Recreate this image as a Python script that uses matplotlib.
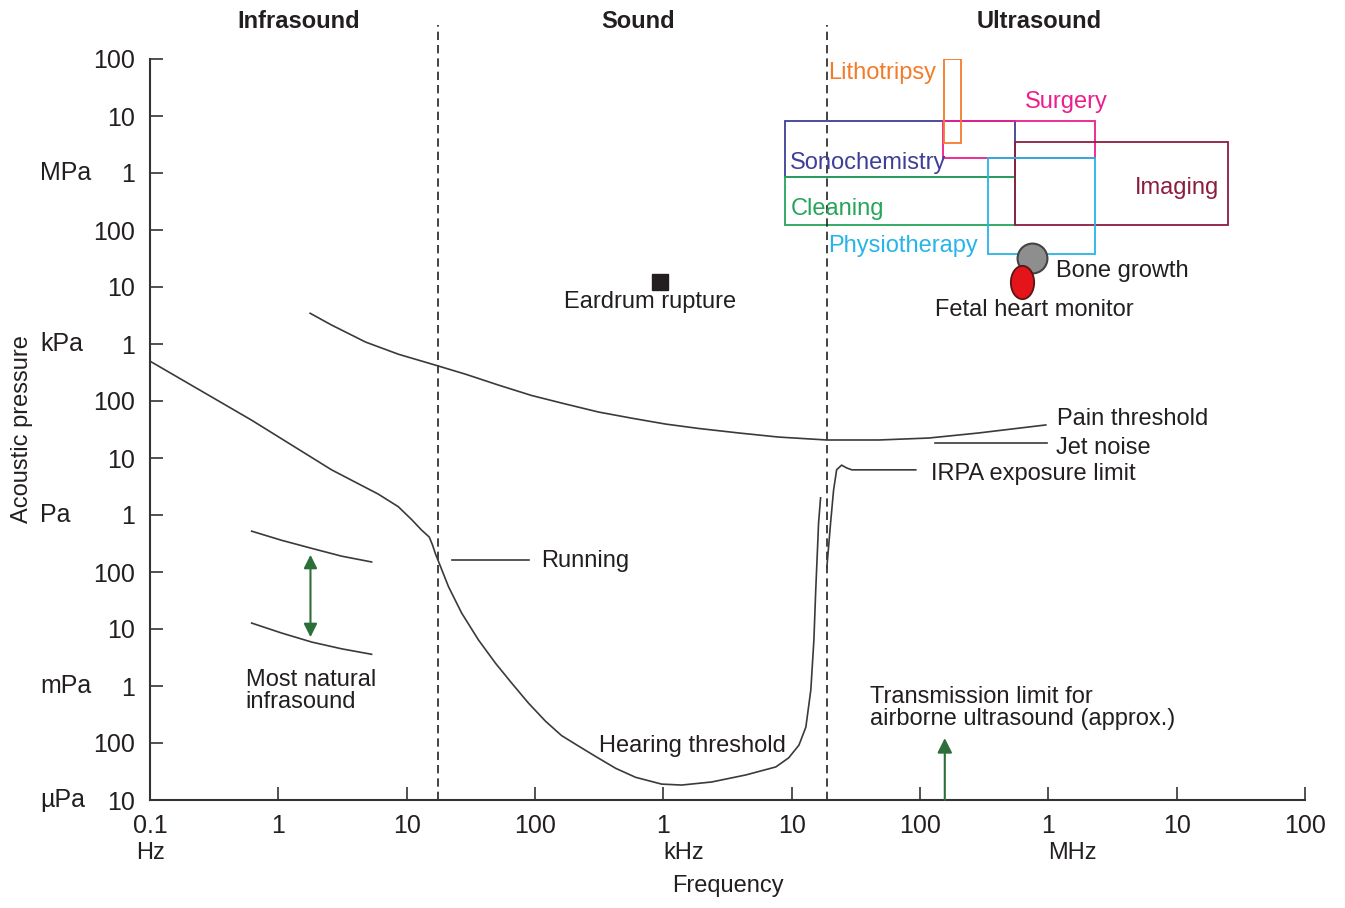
import matplotlib.pyplot as plt
from matplotlib.patches import Rectangle
from matplotlib.path import Path
from matplotlib.transforms import Affine2D

plt.rcParams['font.family'] = ['Liberation Sans', 'DejaVu Sans']

# --- data (frequency in Hz, pressure in Pa) ---
hear_f = [0.1, 0.62, 2.6, 6.0, 8.6, 11, 13, 15, 15.9, 16.7, 21.2, 26.8, 36.3, 49.3, 65.7, 89,
          121, 161, 219, 297, 425, 608, 970, 1390, 2380, 4390, 7520, 9490, 11400,
          12900, 14100, 14900, 15400, 16000, 16200, 16800]
hear_p = [500, 46, 6.2, 2.33, 1.4, 0.82, 0.55, 0.41, 0.298, 0.213, 0.055, 0.0191, 6.4e-3,
          2.5e-3, 1.13e-3, 5.0e-4, 2.4e-4, 1.35e-4, 8.8e-5, 5.8e-5, 3.6e-5, 2.5e-5, 1.9e-5,
          1.83e-5, 2.07e-5, 2.75e-5, 3.8e-5, 5.5e-5, 9.2e-5, 1.9e-4, 8.5e-4, 6.4e-3,
          0.048, 0.36, 0.72, 2.0]

irpa_f = [18800, 20100, 21200, 22400, 24500, 26800, 29400, 92700]
irpa_p = [0.12, 0.72, 2.7, 6.2, 7.5, 6.7, 6.2, 6.2]

pain_f = [1.77, 2.6, 4.79, 8.65, 17.1, 28.8, 52, 94, 173, 313, 566, 1040, 1880, 3860,
          7900, 18800, 47700, 117e3, 287e3, 955e3]
pain_p = [3460, 2150, 1080, 660, 420, 295, 190, 125, 88.5, 64, 50, 39.4, 33, 27.5,
          23.3, 20.7, 20.7, 22.4, 27.5, 38]

jet_f = [132e3, 970e3]
jet_p = [18.3, 18.3]

running_f = [22.4, 89]
running_p = [0.163, 0.163]

infra_f = [0.62, 1.06, 1.82, 3.1, 5.33]
infra_hi = [0.52, 0.36, 0.26, 0.19, 0.15]
infra_lo = [0.0127, 8.5e-3, 5.9e-3, 4.5e-3, 3.6e-3]
infra_arrow_f = 1.78
infra_arrow_p = [7.2e-3, 0.2]

eardrum_f, eardrum_p = 935, 1.22e4
bone_f, bone_p = 743e3, 3.2e4
fetal_f, fetal_p = 628e3, 1.22e4
transmission_f = 156e3
transmission_p = [1e-5, 1.22e-4]

band_edges = [17.5, 18800]

# application boxes: f_lo, f_hi, p_lo, p_hi
box_names = ['Sonochemistry', 'Cleaning', 'Surgery', 'Lithotripsy', 'Imaging', 'Physiotherapy']
box_f_lo = [8.8e3, 8.8e3, 1.5e5, 1.55e5, 5.5e5, 3.4e5]
box_f_hi = [5.5e5, 5.5e5, 2.3e6, 2.1e5, 2.5e7, 2.3e6]
box_p_lo = [8.4e5, 1.2e5, 1.8e6, 3.3e6, 1.2e5, 3.75e4]
box_p_hi = [8.2e6, 8.4e5, 8.2e6, 9.9e7, 3.5e6, 1.8e6]
box_colors = ['#3f3f98', '#26a55a', '#ec1e8c', '#f47b2a', '#8c1d3f', '#27b4e8']

x_ticks = [1e-1, 1, 10, 100, 1e3, 1e4, 1e5, 1e6, 1e7, 1e8]
x_labels = ['0.1', '1', '10', '100', '1', '10', '100', '1', '10', '100']
y_ticks = [1e-5, 1e-4, 1e-3, 1e-2, 1e-1, 1, 10, 100, 1e3, 1e4, 1e5, 1e6, 1e7, 1e8]
y_labels = ['10', '100', '1', '10', '100', '1', '10', '100', '1', '10', '100', '1', '10', '100']

TXT = '#231f20'
LINE = '#3a3a3a'
GREEN = '#2d6e3a'
FS = 17

fig = plt.figure(figsize=(13.45, 9.08), dpi=100)
ax = fig.add_axes([150/1345, 1 - 800/908, 1155/1345, 741/908])
ax.set_xscale('log')
ax.set_yscale('log')
ax.set_xlim(1e-1, 1e8)
ax.set_ylim(1e-5, 1e8)

for s in ['top', 'right']:
    ax.spines[s].set_visible(False)
for s in ['left', 'bottom']:
    ax.spines[s].set_linewidth(1.5)
    ax.spines[s].set_color('#333333')

ax.set_xticks(x_ticks)
ax.set_xticklabels(x_labels)
ax.set_yticks(y_ticks)
ax.set_yticklabels(y_labels)
ax.minorticks_off()
ax.tick_params(direction='in', length=9.5, width=1.2, color='#333333',
               labelsize=18, labelcolor=TXT)
ax.tick_params(axis='y', pad=11)
ax.tick_params(axis='x', pad=10)

# band separators
for f in band_edges:
    ax.axvline(f, ymin=0, ymax=1.046, color='#222222', lw=1.2,
               linestyle=(0, (5, 3)), clip_on=False)

# curves
ax.plot(hear_f, hear_p, color=LINE, lw=1.2)
ax.plot(irpa_f, irpa_p, color=LINE, lw=1.2)
ax.plot(pain_f, pain_p, color=LINE, lw=1.2)
ax.plot(jet_f, jet_p, color=LINE, lw=1.2)
ax.plot(running_f, running_p, color=LINE, lw=1.2)
ax.plot(infra_f, infra_hi, color=LINE, lw=1.2)
ax.plot(infra_f, infra_lo, color=LINE, lw=1.2)

ax.annotate('', xy=(infra_arrow_f, infra_arrow_p[1]), xytext=(infra_arrow_f, infra_arrow_p[0]),
            arrowprops=dict(arrowstyle='<|-|>', color=GREEN, lw=1.5, mutation_scale=20,
                            shrinkA=0, shrinkB=0))
ax.annotate('', xy=(transmission_f, transmission_p[1]), xytext=(transmission_f, transmission_p[0]),
            arrowprops=dict(arrowstyle='-|>', color=GREEN, lw=1.5, mutation_scale=22,
                            shrinkA=0, shrinkB=0))

# application boxes
for name, f0, f1, p0, p1, c in zip(box_names, box_f_lo, box_f_hi, box_p_lo, box_p_hi, box_colors):
    ax.add_patch(Rectangle((f0, p0), f1 - f0, p1 - p0, fill=False, edgecolor=c, lw=1.3))

# markers
ax.plot([eardrum_f], [eardrum_p], marker='s', ms=11, color=TXT, ls='none')
ax.plot([bone_f], [bone_p], marker='o', ms=21.5, mfc='#8e8e8e', mec='#444444', mew=1.5, ls='none')
ellipse = Path.unit_circle().transformed(Affine2D().scale(0.7, 1.0))
ax.plot([fetal_f], [fetal_p], marker=ellipse, ms=24, mfc='#e3151b', mec='#5a1515', mew=1.3,
        ls='none', zorder=5)

# box labels
ax.text(19.4e3, 5.7e7, 'Lithotripsy', color=box_colors[3], fontsize=FS, va='center', ha='left')
ax.text(655e3, 1.76e7, 'Surgery', color=box_colors[2], fontsize=FS, va='center', ha='left')
ax.text(9.6e3, 1.5e6, 'Sonochemistry', color=box_colors[0], fontsize=FS, va='center', ha='left')
ax.text(21.3e6, 5.5e5, 'Imaging', color=box_colors[4], fontsize=FS, va='center', ha='right')
ax.text(9.8e3, 2.3e5, 'Cleaning', color=box_colors[1], fontsize=FS, va='center', ha='left')
ax.text(19.4e3, 5.2e4, 'Physiotherapy', color=box_colors[5], fontsize=FS, va='center', ha='left')

# other labels
ax.text(1.14e6, 1.9e4, 'Bone growth', color=TXT, fontsize=FS, va='center', ha='left')
ax.text(132e3, 3.9e3, 'Fetal heart monitor', color=TXT, fontsize=FS, va='center', ha='left')
ax.text(782, 5.5e3, 'Eardrum rupture', color=TXT, fontsize=FS, va='center', ha='center')
ax.text(1.16e6, 48, 'Pain threshold', color=TXT, fontsize=FS, va='center', ha='left')
ax.text(1.14e6, 15, 'Jet noise', color=TXT, fontsize=FS, va='center', ha='left')
ax.text(121e3, 5.2, 'IRPA exposure limit', color=TXT, fontsize=FS, va='center', ha='left')
ax.text(111, 0.156, 'Running', color=TXT, fontsize=FS, va='center', ha='left')
ax.text(313, 8.9e-5, 'Hearing threshold', color=TXT, fontsize=FS, va='center', ha='left')
ax.text(0.555, 8.2e-4, 'Most natural\ninfrasound', color=TXT, fontsize=FS, va='center',
        ha='left', linespacing=1.0)
ax.text(41e3, 4.1e-4, 'Transmission limit for\nairborne ultrasound (approx.)', color=TXT,
        fontsize=FS, va='center', ha='left', linespacing=1.0)

# region headers
xt = ax.get_xaxis_transform()
ax.text(1.44, 1.051, 'Infrasound', transform=xt, fontsize=FS, fontweight='bold',
        color=TXT, ha='center', va='center')
ax.text(641, 1.051, 'Sound', transform=xt, fontsize=FS, fontweight='bold',
        color=TXT, ha='center', va='center')
ax.text(842e3, 1.051, 'Ultrasound', transform=xt, fontsize=FS, fontweight='bold',
        color=TXT, ha='center', va='center')

# unit labels
ax.text(0.1, -0.0715, 'Hz', transform=xt, fontsize=FS, color=TXT, ha='center', va='center')
ax.text(1e3, -0.0715, 'kHz', transform=xt, fontsize=FS, color=TXT, ha='left', va='center')
ax.text(1e6, -0.0715, 'MHz', transform=xt, fontsize=FS, color=TXT, ha='left', va='center')
ax.text(0.5, -0.116, 'Frequency', transform=ax.transAxes, fontsize=FS, color=TXT,
        ha='center', va='center')

yt = ax.get_yaxis_transform()
for lab, p in zip(['MPa', 'kPa', 'Pa', 'mPa', '\u00b5Pa'], [1e6, 1e3, 1, 1e-3, 1e-5]):
    ax.text(-0.0952, p, lab, transform=yt, fontsize=18, color=TXT, ha='left', va='center')
ax.text(-0.1108, 0.5, 'Acoustic pressure', transform=ax.transAxes, fontsize=FS, color=TXT,
        rotation=90, ha='center', va='center')

fig.savefig('out.png', dpi=100)
